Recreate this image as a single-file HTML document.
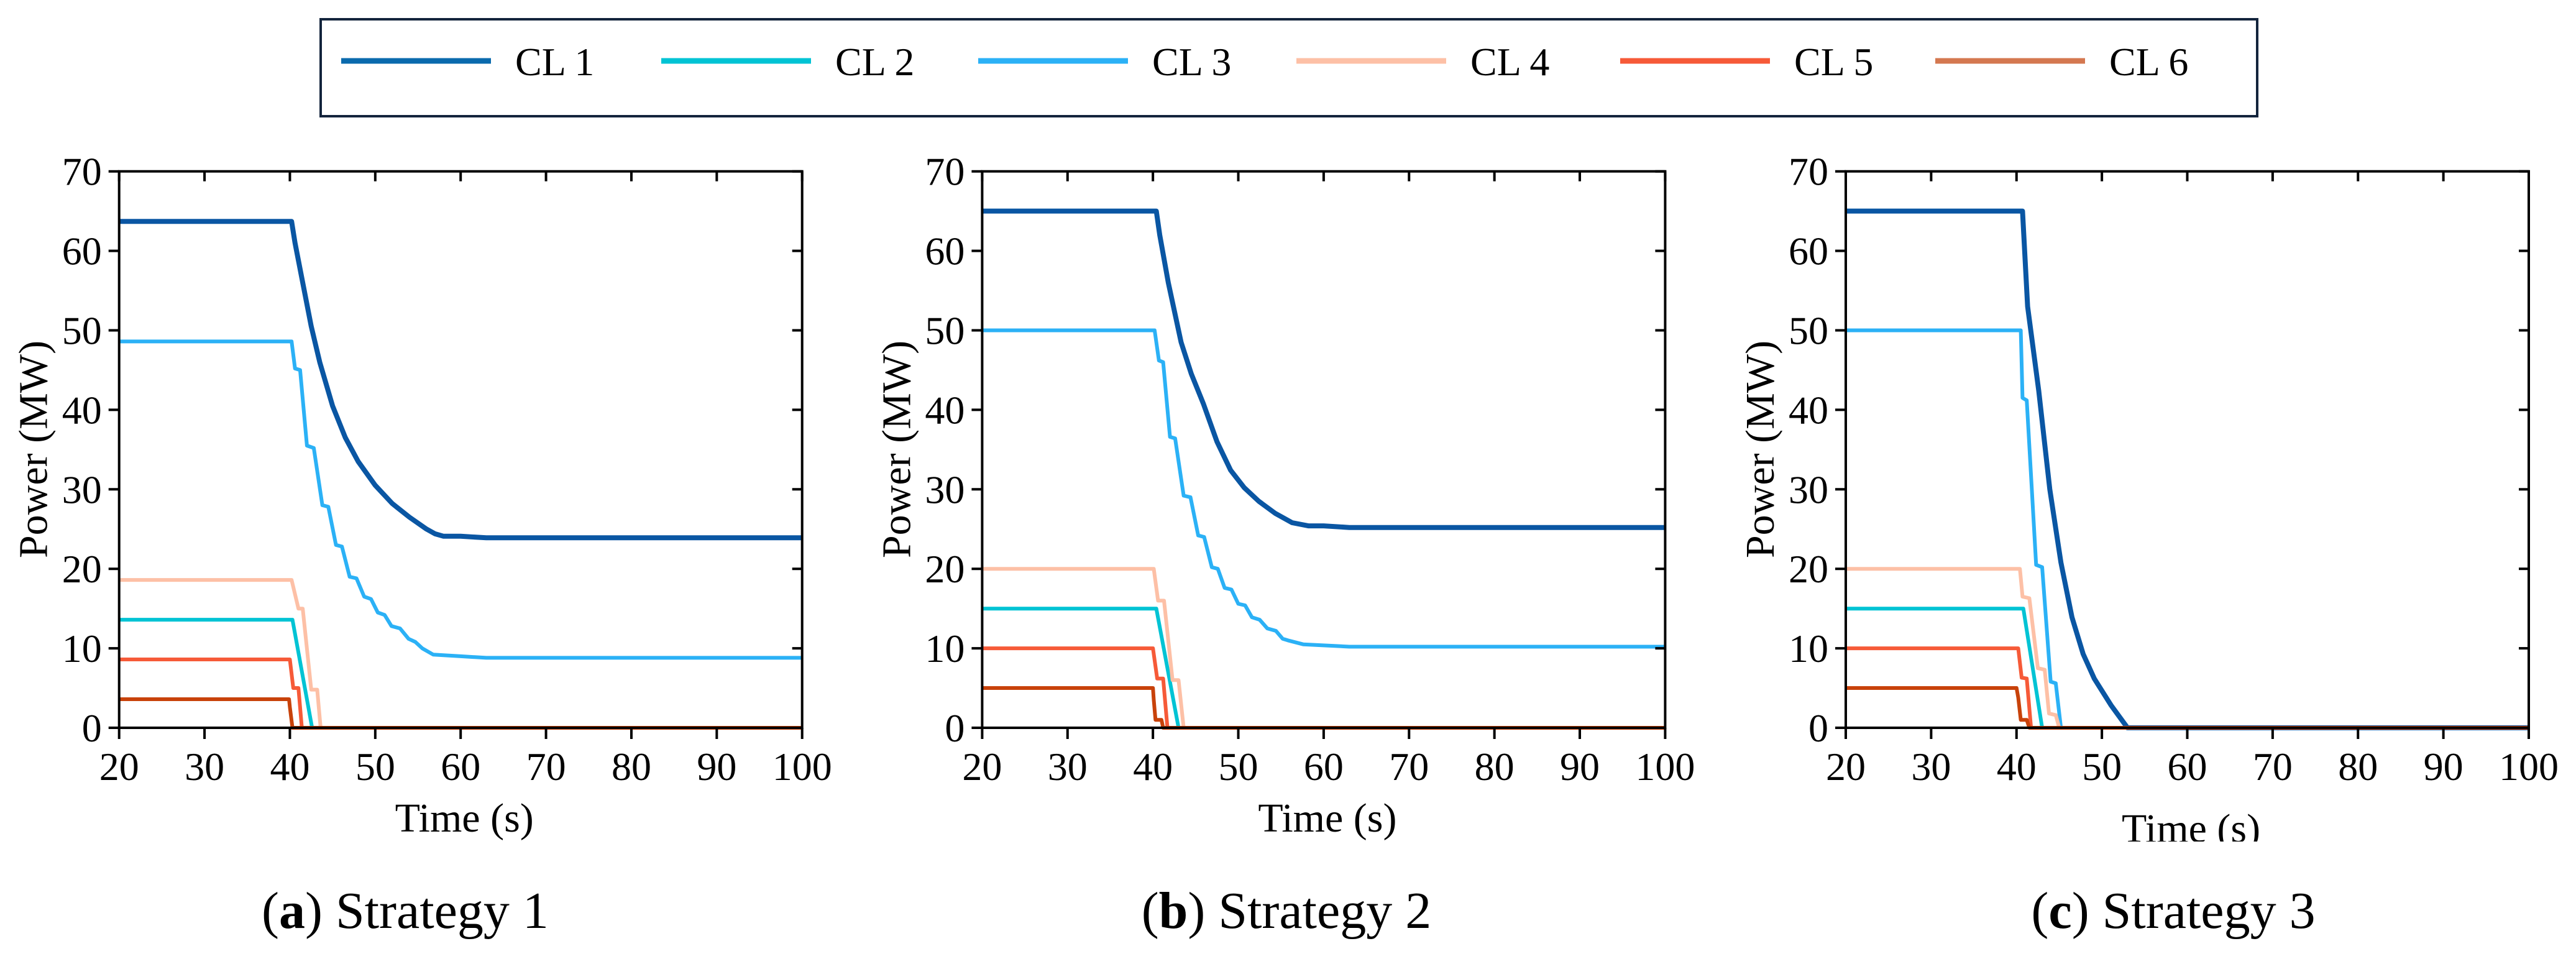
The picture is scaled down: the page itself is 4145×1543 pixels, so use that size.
<!DOCTYPE html>
<html><head><meta charset="utf-8"><style>
html,body{margin:0;padding:0;background:#fff;}
svg{display:block;}
text{font-family:"Liberation Serif",serif;fill:#000;}
</style></head><body>
<svg id="chart" width="4145" height="1543" viewBox="0 0 4145 1543" xmlns="http://www.w3.org/2000/svg">
<rect x="0" y="0" width="4145" height="1543" fill="#fff"/>
<g id="legend"></g>
<g id="panels"></g>
</svg>
<script>
const seriesNames = ["CL 1","CL 2","CL 3","CL 4","CL 5","CL 6"];
const seriesColors = ["#0a56a3","#00c3d4","#2bb1f6","#fdc0a6","#f65a38","#c8420a"];
const legendColors = ["#0a6aad","#00c3d4","#2bb1f6","#fdc0a6","#f65a38","#d47850"];
const xTicks = [20,30,40,50,60,70,80,90,100];
const yTicks = [0,10,20,30,40,50,60,70];
const captionsLetter = ["a","b","c"];
const captionsText = ["Strategy 1","Strategy 2","Strategy 3"];

// Panel (a) Strategy 1
const a_cl1_t = [20,40.2,40.6,41.5,42.5,43.5,45,46.5,48,50,52,54,56,57,58,60,63,100];
const a_cl1_v = [63.7,63.7,61,56,50.5,46,40.5,36.5,33.5,30.5,28.2,26.5,25,24.4,24.1,24.1,23.9,23.9];
const a_cl2_t = [20,40.3,42.6,100];
const a_cl2_v = [13.6,13.6,0,0];
const a_cl3_t = [20,40.2,40.6,41.2,42,42.8,43.8,44.5,45.4,46.1,47,47.8,48.7,49.5,50.3,51.1,51.9,52.9,53.9,54.7,55.5,56.8,60,63,100];
const a_cl3_v = [48.6,48.6,45.2,45,35.5,35.2,28,27.8,23,22.8,19,18.8,16.5,16.2,14.5,14.2,12.8,12.5,11.2,10.8,10,9.2,9,8.8,8.8];
const a_cl4_t = [20,40.2,41,41.5,42.5,43.2,43.6,100];
const a_cl4_v = [18.6,18.6,15,15,4.8,4.8,0,0];
const a_cl5_t = [20,40,40.4,41,41.4,100];
const a_cl5_v = [8.6,8.6,5,5,0,0];
const a_cl6_t = [20,39.9,40,40.3,100];
const a_cl6_v = [3.6,3.6,2.6,0,0];

// Panel (b) Strategy 2
const b_cl1_t = [20,40.4,40.8,41.8,43.3,44.5,45.9,47.5,49.1,50.7,52.4,54.3,56.3,58.2,60,63,100];
const b_cl1_v = [65,65,62,56,48.5,44.5,40.8,36,32.4,30.2,28.5,27,25.8,25.4,25.4,25.2,25.2];
const b_cl2_t = [20,40.4,43,100];
const b_cl2_v = [15,15,0,0];
const b_cl3_t = [20,40.2,40.7,41.2,42,42.6,43.6,44.4,45.3,46,46.9,47.6,48.4,49.2,50,50.8,51.6,52.5,53.4,54.4,55.2,55.8,57.6,63,100];
const b_cl3_v = [50,50,46.2,46,36.6,36.4,29.2,29,24.2,24,20.2,20,17.6,17.4,15.6,15.4,13.9,13.6,12.5,12.2,11.2,11,10.5,10.2,10.2];
const b_cl4_t = [20,40.1,40.6,41.3,42.3,43,43.6,100];
const b_cl4_v = [20,20,16,16,6,6,0,0];
const b_cl5_t = [20,40,40.5,41.2,41.7,100];
const b_cl5_v = [10,10,6.2,6.2,0,0];
const b_cl6_t = [20,40,40.1,40.3,41,41.2,100];
const b_cl6_v = [5,5,3.5,1,1,0,0];

// Panel (c) Strategy 3
const c_cl1_t = [20,40.7,41.3,42.6,43.9,45.2,46.5,47.8,49.1,51.1,53,100];
const c_cl1_v = [65,65,53,42.4,30,20.8,13.9,9.3,6.2,2.8,0,0];
const c_cl2_t = [20,40.8,43,100];
const c_cl2_v = [15,15,0,0];
const c_cl3_t = [20,40.5,40.7,41.2,42.3,43,44,44.6,45.2,100];
const c_cl3_v = [50,50,41.5,41.2,20.5,20.2,5.8,5.6,0,0];
const c_cl4_t = [20,40.4,40.7,41.5,42.5,43.3,43.8,44.6,45,100];
const c_cl4_v = [20,20,16.5,16.3,7.5,7.3,1.8,1.6,0,0];
const c_cl5_t = [20,40.2,40.6,41.2,41.7,100];
const c_cl5_v = [10,10,6.3,6.2,0,0];
const c_cl6_t = [20,40,40.2,40.5,41.2,41.5,100];
const c_cl6_v = [5,5,3.8,1,1,0,0];

const panelTimes = [[a_cl1_t,a_cl2_t,a_cl3_t,a_cl4_t,a_cl5_t,a_cl6_t],[b_cl1_t,b_cl2_t,b_cl3_t,b_cl4_t,b_cl5_t,b_cl6_t],[c_cl1_t,c_cl2_t,c_cl3_t,c_cl4_t,c_cl5_t,c_cl6_t]];
const panelValues = [[a_cl1_v,a_cl2_v,a_cl3_v,a_cl4_v,a_cl5_v,a_cl6_v],[b_cl1_v,b_cl2_v,b_cl3_v,b_cl4_v,b_cl5_v,b_cl6_v],[c_cl1_v,c_cl2_v,c_cl3_v,c_cl4_v,c_cl5_v,c_cl6_v]];

const NS = "http://www.w3.org/2000/svg";
function mk(tag, attrs, parent){const e=document.createElementNS(NS,tag);for(const k in attrs)e.setAttribute(k,attrs[k]);parent.appendChild(e);return e;}

// legend
const lg = document.getElementById("legend");
const box = mk("rect",{x:516,y:31,width:3116,height:156,fill:"#fff",stroke:"#13243c","stroke-width":4},lg);


const legX = [549,1064,1574,2086,2607,3114];
seriesNames.forEach((n,i)=>{
  const g = mk("g",{},lg);
  
  
  mk("line",{x1:legX[i],y1:98,x2:legX[i]+241,y2:98,stroke:legendColors[i],"stroke-width":9},g);
  const t = mk("text",{x:legX[i]+280,y:121,"font-size":64},g);
  t.textContent = n;
});

const panelLeft = [191.7,1580.4,2970];
const plotW = 1099, yTop = 275.7, yBot = 1171;
const panels = document.getElementById("panels");
panelLeft.forEach((L,p)=>{
  const g = mk("g",{},panels);
  
  
  const xs = t => L + (t-20)/80*plotW;
  const ys = v => yBot - v/70*(yBot-yTop);
  // series
  const sg = mk("g",{},g);
  
  
  for(let i=0;i<6;i++){
    const T = panelTimes[p][i], V = panelValues[p][i];
    const pts = T.map((t,k)=>xs(t).toFixed(1)+","+ys(V[k]).toFixed(1)).join(" ");
    const pl = mk("polyline",{points:pts,fill:"none",stroke:seriesColors[i],"stroke-width":i===0?8:6,"stroke-linejoin":"round","stroke-linecap":"butt"},sg);
    
    
  }
  // frame
  const fr = mk("rect",{x:L,y:yTop,width:plotW,height:yBot-yTop,fill:"none",stroke:"#000","stroke-width":4},g);
  
  
  // x ticks
  xTicks.forEach(t=>{
    const x = xs(t);
    mk("line",{x1:x,y1:yBot,x2:x,y2:yBot+18,stroke:"#000","stroke-width":4},g);
    mk("line",{x1:x,y1:yTop,x2:x,y2:yTop+16,stroke:"#000","stroke-width":4},g);
    const tl = mk("text",{x:x,y:1255,"font-size":64,"text-anchor":"middle"},g);
    
    
    tl.textContent = t;
  });
  yTicks.forEach(v=>{
    const y = ys(v);
    mk("line",{x1:L-17,y1:y,x2:L,y2:y,stroke:"#000","stroke-width":4},g);
    mk("line",{x1:L+plotW-16,y1:y,x2:L+plotW,y2:y,stroke:"#000","stroke-width":4},g);
    const tl = mk("text",{x:L-28,y:y+22,"font-size":64,"text-anchor":"end"},g);
    
    
    tl.textContent = v;
  });
  // axis titles
  const xt = mk("text",{x:L+plotW/2+6,y:p===2?1355:1338,"font-size":66,"text-anchor":"middle"},g);
  
  
  xt.textContent = "Time (s)";
  if(p===2){ mk("rect",{x:L+300,y:1354,width:500,height:40,fill:"#fff"},g); }
  const yt = mk("text",{x:0,y:0,"font-size":66,"text-anchor":"middle",transform:"translate("+(L-116)+",723) rotate(-90)"},g);
  
  
  yt.textContent = "Power (MW)";
  // caption
  const cx = [652,2070,3497][p];
  const cap = mk("text",{x:cx,y:1493,"font-size":84,"text-anchor":"middle"},g);
  
  
  const t1 = mk("tspan",{},cap); t1.textContent="(";
  const t2 = mk("tspan",{"font-weight":"bold"},cap); t2.textContent=captionsLetter[p];
  const t3 = mk("tspan",{},cap); t3.textContent=") "+captionsText[p];
});
</script>
</body></html>
